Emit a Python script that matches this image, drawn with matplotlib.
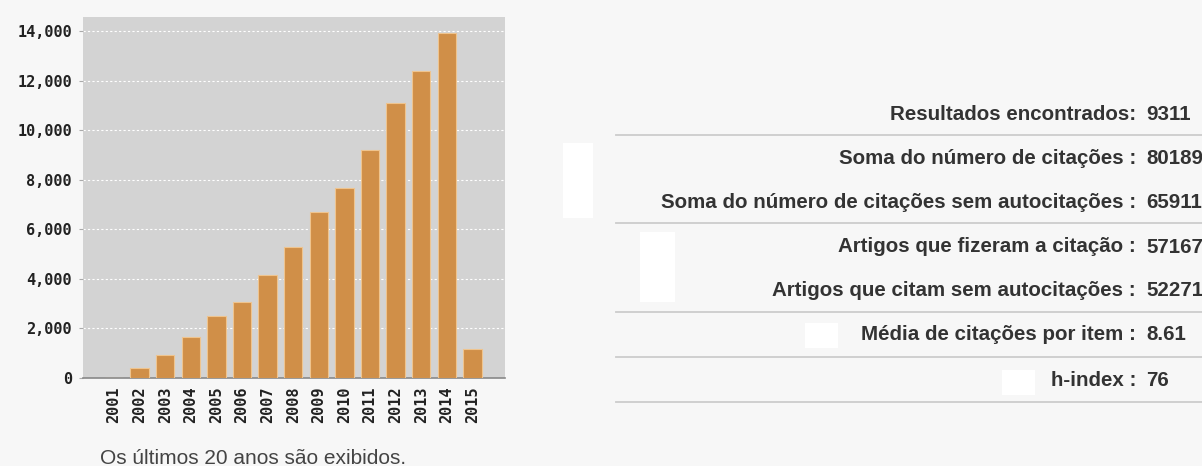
import matplotlib.pyplot as plt
from matplotlib.patches import Rectangle
from matplotlib.ticker import FuncFormatter

# citation counts per year
years = ['2001', '2002', '2003', '2004', '2005', '2006', '2007', '2008',
         '2009', '2010', '2011', '2012', '2013', '2014', '2015']
citations = [0, 400, 940, 1650, 2490, 3050, 4170, 5280,
             6690, 7660, 9210, 11090, 12370, 13910, 1180]
y_ticks = [0, 2000, 4000, 6000, 8000, 10000, 12000, 14000]

# summary table on the right
stat_labels = ['Resultados encontrados:',
               'Soma do número de citações :',
               'Soma do número de citações sem autocitações :',
               'Artigos que fizeram a citação :',
               'Artigos que citam sem autocitações :',
               'Média de citações por item :',
               'h-index :']
stat_values = ['9311', '80189', '65911', '57167', '52271', '8.61', '76']

W, H = 1202, 466
fig = plt.figure(figsize=(W / 100, H / 100), dpi=100)
fig.patch.set_facecolor('#f7f7f7')

# bar chart
ax = fig.add_axes([83 / W, 1 - 378 / H, 422 / W, 361 / H])
ax.set_facecolor('#d3d3d3')
x = range(len(years))
ax.bar(x, citations, width=0.72, color='#d08f48', edgecolor='#efc48e',
       linewidth=0.8, zorder=3)
ax.set_xlim(-1.21, 15.27)
ax.set_ylim(0, 14565)
ax.set_yticks(y_ticks)
ax.yaxis.set_major_formatter(FuncFormatter(lambda v, p: f'{int(v):,}'))
ax.set_xticks(list(x))
ax.set_xticklabels(years, rotation=90)
ax.grid(axis='y', color='white', linestyle=(0, (2, 2)), linewidth=0.8, zorder=1)
for s in ['top', 'right', 'left']:
    ax.spines[s].set_visible(False)
ax.spines['bottom'].set_color('#888888')
ax.spines['bottom'].set_linewidth(1.2)
ax.tick_params(axis='x', length=0, pad=6)
ax.tick_params(axis='y', length=3, color='#aaaaaa', pad=5)
for lab in ax.get_xticklabels() + ax.get_yticklabels():
    lab.set_fontfamily('DejaVu Sans Mono')
    lab.set_fontweight('bold')
    lab.set_fontsize(11)
    lab.set_color('#222222')

fig.text(100 / W, 1 - 458 / H, 'Os últimos 20 anos são exibidos.',
         fontsize=15, family='Liberation Sans', color='#444444', va='center')

# white patches left over in the screenshot
patches = [(563, 143, 593, 218), (640, 232, 675, 302),
           (805, 323, 838, 348), (1002, 370, 1035, 395)]
for (x0, y0, x1, y1) in patches:
    fig.patches.append(Rectangle((x0 / W, 1 - y1 / H), (x1 - x0) / W, (y1 - y0) / H,
                                 transform=fig.transFigure, facecolor='white',
                                 edgecolor='none'))

# table rows and separators
row_y = [114, 158, 202, 247, 290, 335, 380]
line_y = [135, 223, 312, 357, 402]
for lab, val, yy in zip(stat_labels, stat_values, row_y):
    fig.text(1136 / W, 1 - yy / H, lab, ha='right', va='center', fontsize=14.8,
             family='Liberation Sans', fontweight='bold', color='#333333')
    fig.text(1146 / W, 1 - yy / H, val, ha='left', va='center', fontsize=14.8,
             family='Liberation Sans', fontweight='bold', color='#333333')
for yy in line_y:
    fig.add_artist(plt.Line2D([616 / W, 1.0], [1 - yy / H] * 2, color='#cccccc',
                              linewidth=1.3, transform=fig.transFigure))

fig.savefig('out.png', dpi=100, facecolor=fig.get_facecolor())
